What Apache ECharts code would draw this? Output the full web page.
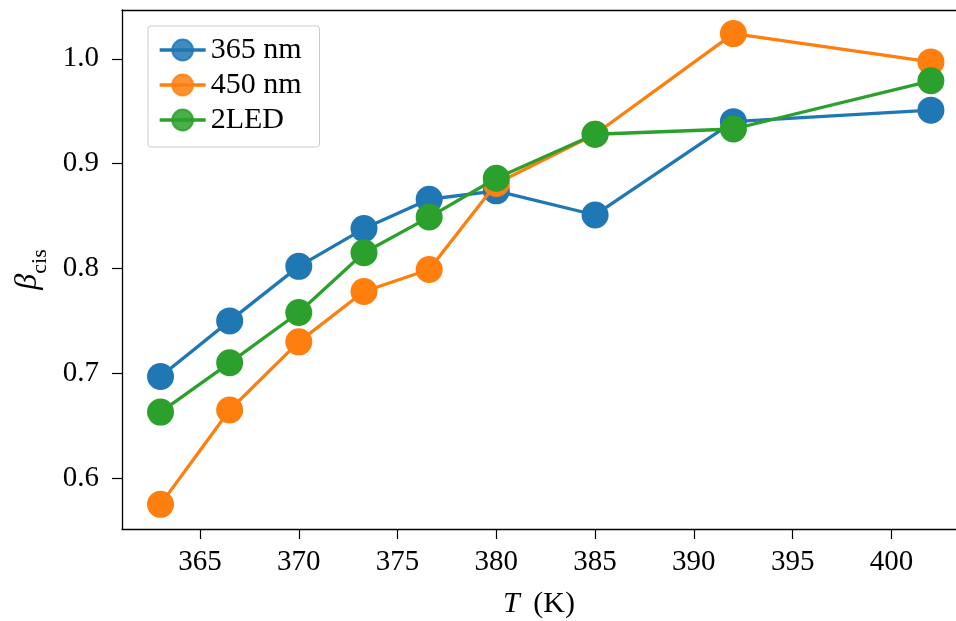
<!DOCTYPE html>
<html>
<head>
<meta charset="utf-8">
<script src="https://cdn.jsdelivr.net/npm/echarts@6/dist/echarts.min.js"></script>
<style>
html,body{margin:0;padding:0;background:#fff;}
#chart{width:956px;height:621px;}
</style>
</head>
<body>
<div id="chart"></div>
<script>
var temperatures = [363, 366.5, 370, 373.3, 376.6, 380, 385, 392, 402];
var beta365 = [0.697, 0.750, 0.802, 0.838, 0.866, 0.874, 0.851, 0.940, 0.951];
var beta450 = [0.575, 0.665, 0.730, 0.778, 0.799, 0.881, 0.928, 1.024, 0.997];
var beta2LED = [0.663, 0.710, 0.758, 0.815, 0.849, 0.886, 0.928, 0.933, 0.979];
var seriesNames = ['365 nm', '450 nm', '2LED'];
var xTicks = [365, 370, 375, 380, 385, 390, 395, 400];
var yTicks = [0.6, 0.7, 0.8, 0.9, 1.0];

var colors = ['#1f77b4', '#ff7f0e', '#2ca02c'];
var FONT = '"Liberation Serif", "DejaVu Serif", serif';
var X_MIN = 361.05, X_MAX = 403.27;

function pairs(ys) {
  return temperatures.map(function (t, i) { return [t, ys[i]]; });
}

var allSeries = [beta365, beta450, beta2LED].map(function (ys, k) {
  return {
    name: seriesNames[k],
    type: 'line',
    xAxisIndex: 0,
    data: pairs(ys),
    symbol: 'circle',
    symbolSize: 27,
    lineStyle: { color: colors[k], width: 3.3 },
    itemStyle: { color: colors[k], borderWidth: 0 },
    emphasis: { disabled: true },
    z: 2 + k,
    animation: false
  };
});

var chart = echarts.init(document.getElementById('chart'), null, { renderer: 'canvas' });
chart.setOption({
  animation: false,
  backgroundColor: '#fff',
  color: colors,
  grid: { left: 122, top: 10, right: 0, bottom: 92, containLabel: false, outerBoundsMode: 'none', show: false },
  legend: {
    show: true,
    orient: 'vertical',
    left: 148,
    top: 26,
    padding: [9, 18, 12, 10],
    itemWidth: 46,
    itemHeight: 26,
    itemGap: 5,
    borderColor: '#cccccc',
    borderWidth: 1,
    borderRadius: 3,
    backgroundColor: 'rgba(255,255,255,0.8)',
    textStyle: { fontFamily: FONT, fontSize: 30, color: '#000' },
    data: seriesNames.map(function (n, k) {
      return { name: n, itemStyle: { color: colors[k], opacity: 0.85, borderColor: colors[k], borderWidth: 2 },
               lineStyle: { width: 3.3 } };
    })
  },
  xAxis: [{
    type: 'value',
    min: X_MIN,
    max: X_MAX,
    axisLine: { show: true, lineStyle: { color: '#000', width: 1.3 } },
    axisTick: { show: true, inside: false, length: 10, lineStyle: { color: '#000', width: 1.2 }, customValues: xTicks },
    axisLabel: { show: true, margin: 19, fontFamily: FONT, fontSize: 29, color: '#000', customValues: xTicks,
                 formatter: function (v) { return String(Math.round(v)); } },
    splitLine: { show: false },
    name: '{i|T} (K)',
    nameLocation: 'middle',
    nameGap: 60,
    nameTextStyle: {
      fontFamily: FONT, fontSize: 30, color: '#000',
      rich: { i: { fontFamily: FONT, fontSize: 30, fontStyle: 'italic', color: '#000', padding: [0, 6, 0, 0] } }
    }
  }, {
    type: 'value',
    position: 'top',
    min: X_MIN,
    max: X_MAX,
    axisLine: { show: true, onZero: false, lineStyle: { color: '#000', width: 1.3 } },
    axisTick: { show: false },
    axisLabel: { show: false },
    splitLine: { show: false }
  }],
  yAxis: {
    type: 'value',
    min: 0.5515,
    max: 1.0465,
    axisLine: { show: true, lineStyle: { color: '#000', width: 1.3 } },
    axisTick: { show: true, inside: false, length: 10, lineStyle: { color: '#000', width: 1.2 }, customValues: yTicks },
    axisLabel: { show: true, margin: 23, fontFamily: FONT, fontSize: 29, color: '#000', customValues: yTicks,
                 formatter: function (v) { return v.toFixed(1); } },
    splitLine: { show: false },
    name: '{b|\u03B2}{s|cis}',
    nameLocation: 'middle',
    nameGap: 78,
    nameTextStyle: {
      fontFamily: FONT, fontSize: 32, color: '#000',
      rich: {
        b: { fontFamily: FONT, fontSize: 32, fontStyle: 'italic', color: '#000', verticalAlign: 'bottom' },
        s: { fontFamily: FONT, fontSize: 22, color: '#000', verticalAlign: 'bottom', padding: [0, 0, -7, 0] }
      }
    }
  },
  series: allSeries
});
</script>
</body>
</html>
